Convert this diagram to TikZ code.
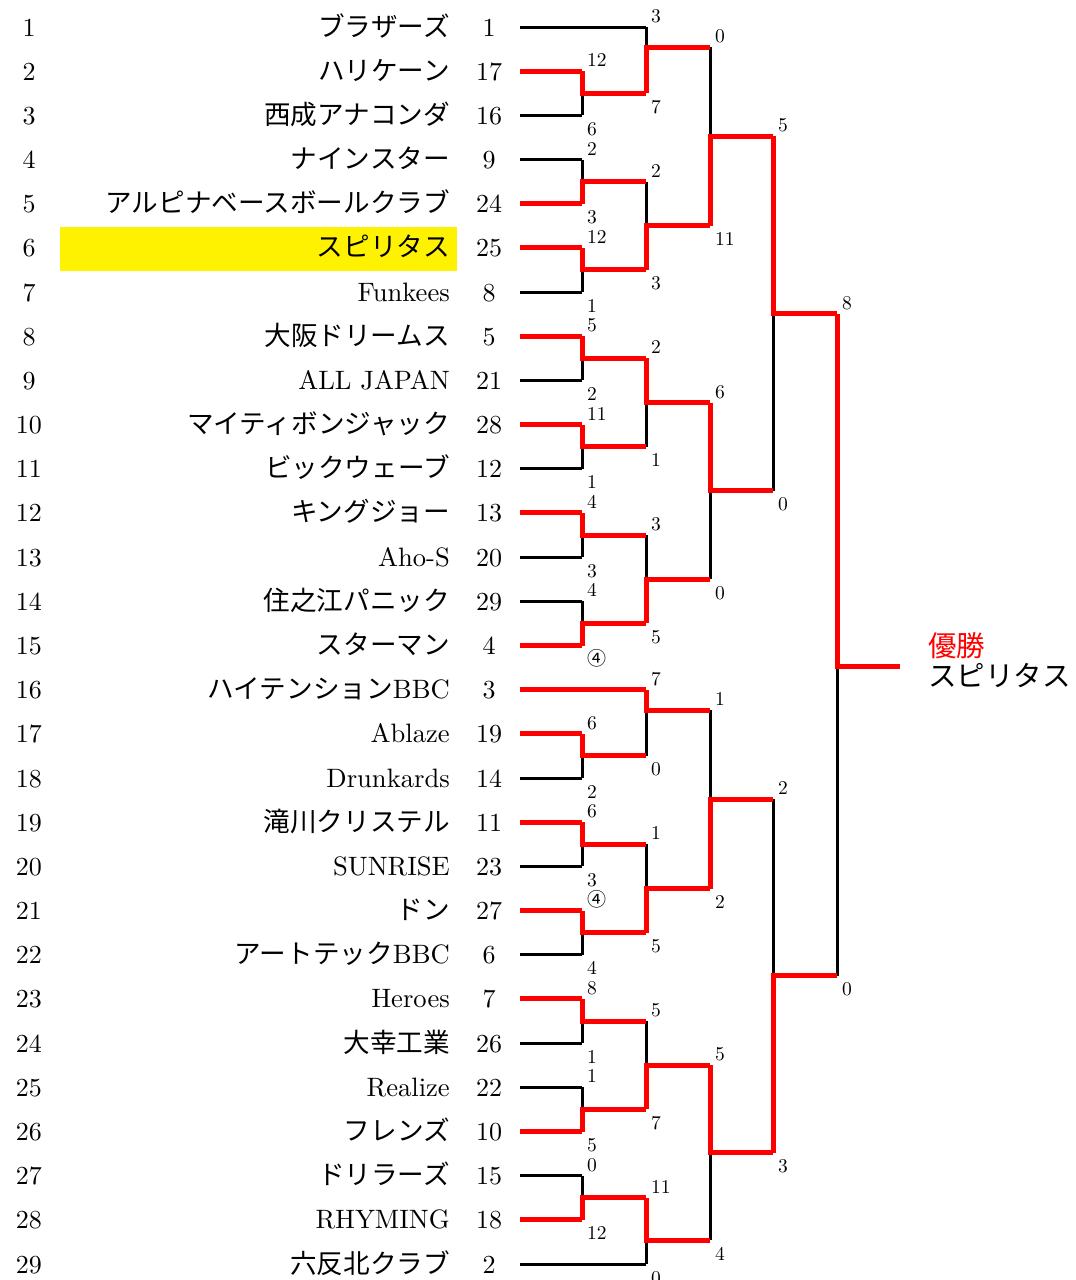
\documentclass[tikz,border=0pt]{standalone}
\usepackage{fontspec}
\setmainfont{lmroman10-regular}[Extension=.otf]
\newfontfamily\jp{Noto Sans CJK JP}
\usetikzlibrary{calc}
\pgfdeclarelayer{bg}
\pgfdeclarelayer{bgg}
\pgfsetlayers{bgg,bg,main}
\tikzset{
  blk/.style={line width=3pt, black, line cap=square},
  win/.style={line width=5pt, red, line cap=square, line join=miter},
  scorelab/.style={font=\fontsize{19.5}{22}\selectfont, inner sep=0pt, anchor=base west},
  tname/.style={font=\fontsize{26.6}{30}\selectfont, inner sep=0pt, anchor=base east},
  seednum/.style={font=\fontsize{26}{30}\selectfont, inner sep=0pt, anchor=base},
  rownum/.style={font=\fontsize{26}{30}\selectfont, inner sep=0pt, anchor=base},
  finlab/.style={font=\jp\fontsize{28.5}{30}\selectfont, inner sep=0pt, anchor=base west},
}
\newcommand\circfour{{\jp\fontsize{19}{22}\selectfont ④}}
% #1 out coord, #2 top input, #3 bottom input, #4 column, #5 next column, #6 winner input, #7 top score, #8 bottom score
\newcommand\bmatch[8]{%
  \begin{pgfonlayer}{bg}\draw[blk] (#2 -| #4) -- (#3 -| #4);\end{pgfonlayer}
  \draw[win] (#6 -| #4) -- (#1 -| #4) -- (#1 -| #5);
  \node[scorelab] (#1t) at ($(#2 -| #4)+(5,-4.5)$) {#7};
  \node[scorelab] (#1b) at ($(#3 -| #4)+(5,20)$) {#8};
}
\newcommand\tm[2]{\node[tname] (tm#1) at ($(r#1)+(450,9)$) {#2};}
\begin{document}
\begin{tikzpicture}[x=1pt,y=-1pt]
\useasboundingbox (0,0) rectangle (1076,1280);
% rows and columns
\foreach \i in {1,...,29} \coordinate (r\i) at (0,{27+(\i-1)*44.18});
\coordinate (c0) at (520,0);
\coordinate (c1) at (582,0);
\coordinate (c2) at (646,0);
\coordinate (c3) at (710,0);
\coordinate (c4) at (773,0);
\coordinate (c5) at (837,0);
\coordinate (c6) at (900,0);
% highlight
\begin{pgfonlayer}{bgg}
\fill[yellow] (60,227) rectangle (457,271);
\end{pgfonlayer}
% row numbers and seeds
\foreach \i/\s in {1/1,2/17,3/16,4/9,5/24,6/25,7/8,8/5,9/21,10/28,11/12,12/13,13/20,14/29,15/4,16/3,17/19,18/14,19/11,20/23,21/27,22/6,23/7,24/26,25/22,26/10,27/15,28/18,29/2}{
  \node[rownum] (no\i) at ($(r\i)+(29,9)$) {\i};
  \node[seednum] (sd\i) at ($(r\i)+(489,9)$) {\s};
}
% team names
\tm{1}{\jp ブラザーズ}
\tm{2}{\jp ハリケーン}
\tm{3}{\jp 西成アナコンダ}
\tm{4}{\jp ナインスター}
\tm{5}{\jp アルピナベースボールクラブ}
\tm{6}{\jp スピリタス}
\tm{7}{Funkees}
\tm{8}{\jp 大阪ドリームス}
\tm{9}{ALL JAPAN}
\tm{10}{\jp マイティボンジャック}
\tm{11}{\jp ビックウェーブ}
\tm{12}{\jp キングジョー}
\tm{13}{Aho-S}
\tm{14}{\jp 住之江パニック}
\tm{15}{\jp スターマン}
\tm{16}{{\jp ハイテンション}BBC}
\tm{17}{Ablaze}
\tm{18}{Drunkards}
\tm{19}{\jp 滝川クリステル}
\tm{20}{SUNRISE}
\tm{21}{\jp ドン}
\tm{22}{{\jp アートテック}BBC}
\tm{23}{Heroes}
\tm{24}{\jp 大幸工業}
\tm{25}{Realize}
\tm{26}{\jp フレンズ}
\tm{27}{\jp ドリラーズ}
\tm{28}{RHYMING}
\tm{29}{\jp 六反北クラブ}
% team input lines
\begin{pgfonlayer}{bg}
\foreach \i in {3,4,7,9,11,13,14,18,20,22,24,25,27} \draw[blk] (r\i -| c0) -- (r\i -| c1);
\foreach \i in {1,29} \draw[blk] (r\i -| c0) -- (r\i -| c2);
\end{pgfonlayer}
\foreach \i in {2,5,6,8,10,12,15,17,19,21,23,26,28} \draw[win] (r\i -| c0) -- (r\i -| c1);
\draw[win] (r16 -| c0) -- (r16 -| c2);
% match output points
\coordinate (a1) at ($(r2)!.5!(r3)$);
\coordinate (a2) at ($(r4)!.5!(r5)$);
\coordinate (a3) at ($(r6)!.5!(r7)$);
\coordinate (a4) at ($(r8)!.5!(r9)$);
\coordinate (a5) at ($(r10)!.5!(r11)$);
\coordinate (a6) at ($(r12)!.5!(r13)$);
\coordinate (a7) at ($(r14)!.5!(r15)$);
\coordinate (a8) at ($(r17)!.5!(r18)$);
\coordinate (a9) at ($(r19)!.5!(r20)$);
\coordinate (a10) at ($(r21)!.5!(r22)$);
\coordinate (a11) at ($(r23)!.5!(r24)$);
\coordinate (a12) at ($(r25)!.5!(r26)$);
\coordinate (a13) at ($(r27)!.5!(r28)$);
\coordinate (b1) at (0,47);
\coordinate (b2) at ($(a2)!.5!(a3)$);
\coordinate (b3) at ($(a4)!.5!(a5)$);
\coordinate (b4) at ($(a6)!.5!(a7)$);
\coordinate (b5) at (0,710);
\coordinate (b6) at ($(a9)!.5!(a10)$);
\coordinate (b7) at ($(a11)!.5!(a12)$);
\coordinate (b8) at (0,1240);
\coordinate (q1) at ($(b1)!.5!(b2)$);
\coordinate (q2) at ($(b3)!.5!(b4)$);
\coordinate (q3) at ($(b5)!.5!(b6)$);
\coordinate (q4) at ($(b7)!.5!(b8)$);
\coordinate (s1) at ($(q1)!.5!(q2)$);
\coordinate (s2) at ($(q3)!.5!(q4)$);
\coordinate (fin) at (0,666);
% round 1
\bmatch{a1}{r2}{r3}{c1}{c2}{r2}{12}{6}
\bmatch{a2}{r4}{r5}{c1}{c2}{r5}{2}{3}
\bmatch{a3}{r6}{r7}{c1}{c2}{r6}{12}{1}
\bmatch{a4}{r8}{r9}{c1}{c2}{r8}{5}{2}
\bmatch{a5}{r10}{r11}{c1}{c2}{r10}{11}{1}
\bmatch{a6}{r12}{r13}{c1}{c2}{r12}{4}{3}
\bmatch{a7}{r14}{r15}{c1}{c2}{r15}{4}{\circfour}
\bmatch{a8}{r17}{r18}{c1}{c2}{r17}{6}{2}
\bmatch{a9}{r19}{r20}{c1}{c2}{r19}{6}{3}
\bmatch{a10}{r21}{r22}{c1}{c2}{r21}{\circfour}{4}
\bmatch{a11}{r23}{r24}{c1}{c2}{r23}{8}{1}
\bmatch{a12}{r25}{r26}{c1}{c2}{r26}{1}{5}
\bmatch{a13}{r27}{r28}{c1}{c2}{r28}{0}{12}
% round 2
\bmatch{b1}{r1}{a1}{c2}{c3}{a1}{3}{7}
\bmatch{b2}{a2}{a3}{c2}{c3}{a3}{2}{3}
\bmatch{b3}{a4}{a5}{c2}{c3}{a4}{2}{1}
\bmatch{b4}{a6}{a7}{c2}{c3}{a7}{3}{5}
\bmatch{b5}{r16}{a8}{c2}{c3}{r16}{7}{0}
\bmatch{b6}{a9}{a10}{c2}{c3}{a10}{1}{5}
\bmatch{b7}{a11}{a12}{c2}{c3}{a12}{5}{7}
\bmatch{b8}{a13}{r29}{c2}{c3}{a13}{11}{0}
% round 3
\bmatch{q1}{b1}{b2}{c3}{c4}{b2}{0}{11}
\bmatch{q2}{b3}{b4}{c3}{c4}{b3}{6}{0}
\bmatch{q3}{b5}{b6}{c3}{c4}{b6}{1}{2}
\bmatch{q4}{b7}{b8}{c3}{c4}{b7}{5}{4}
% semifinal
\bmatch{s1}{q1}{q2}{c4}{c5}{q1}{5}{0}
\bmatch{s2}{q3}{q4}{c4}{c5}{q4}{2}{3}
% final
\bmatch{fin}{s1}{s2}{c5}{c6}{s1}{8}{0}
% champion
\node[finlab, text=red] (yusho) at (928,656) {優勝};
\node[finlab] (champ) at (928,686) {スピリタス};
\end{tikzpicture}
\end{document}
